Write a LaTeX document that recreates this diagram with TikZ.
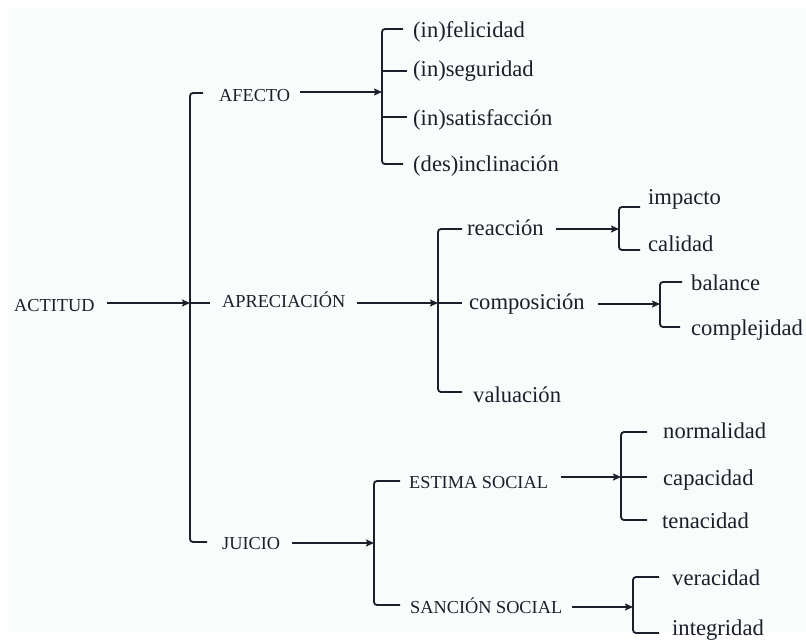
\documentclass[tikz,border=0pt]{standalone}
\usepackage{fontspec}
\setmainfont{Liberation Serif}
\usetikzlibrary{arrows.meta}
\definecolor{ink}{HTML}{1A1F2B}
\definecolor{bg}{HTML}{FAFBFB}
\begin{document}
\begin{tikzpicture}[x=1pt,y=-1pt,
  up/.style={inner sep=0pt,anchor=base west,text=ink,font=\rmfamily\fontsize{18.3}{20}\selectfont},
  lo/.style={inner sep=0pt,anchor=base west,text=ink,font=\rmfamily\fontsize{22.6}{24}\selectfont},
  arr/.style={draw=ink,line width=1.8pt,-{Stealth[length=8pt,width=7pt,inset=1.5pt]}},
  br/.style={draw=ink,line width=1.8pt,rounded corners=3pt},
  tick/.style={draw=ink,line width=1.8pt}]
\useasboundingbox (0,0) rectangle (806,640);
\fill[white] (0,0) rectangle (806,640);
\fill[bg] (8,8) rectangle (806,632);

% nodes
\node[up] (actitud) at (14,311) {ACTITUD};
\node[up] (afecto) at (219,101) {AFECTO};
\node[up] (apre) at (222,307) {APRECIACIÓN};
\node[up] (juicio) at (222,549) {JUICIO};

\node[lo] (fel) at (413,37) {(in)felicidad};
\node[lo] (seg) at (413,76) {(in)seguridad};
\node[lo] (sat) at (413,125) {(in)satisfacción};
\node[lo] (des) at (413,171) {(des)inclinación};

\node[lo] (reac) at (467,235) {reacción};
\node[lo] (comp) at (469,309) {composición};
\node[lo] (valu) at (473,402) {valuación};

\node[lo] (imp) at (648,204) {impacto};
\node[lo] (cal) at (648,251) {calidad};
\node[lo] (bal) at (691,290) {balance};
\node[lo] (cplj) at (691,335) {complejidad};

\node[up] (estima) at (409,488) {ESTIMA SOCIAL};
\node[up] (sancion) at (410,613) {SANCIÓN SOCIAL};

\node[lo] (norm) at (663,438) {normalidad};
\node[lo] (capa) at (663,485) {capacidad};
\node[lo] (tena) at (662,528) {tenacidad};
\node[lo] (vera) at (672,585) {veracidad};
\node[lo] (inte) at (672,635) {integridad};

% bracket coordinates
\coordinate (mA) at (190,303);
\coordinate (aA) at (382,92);
\coordinate (pA) at (438,303);
\coordinate (jA) at (374,543);
\coordinate (rA) at (619,229);
\coordinate (cA) at (660,304);
\coordinate (eA) at (621,477);
\coordinate (sA) at (633,607);

% arrows
\draw[arr] ([xshift=12pt]actitud.east |- mA) -- (mA);
\draw[arr] ([xshift=10pt]afecto.east |- aA) -- (aA);
\draw[arr] ([xshift=12pt]apre.east |- pA) -- (pA);
\draw[arr] ([xshift=12pt]juicio.east |- jA) -- (jA);
\draw[arr] ([xshift=12pt]reac.east |- rA) -- (rA);
\draw[arr] ([xshift=13pt]comp.east |- cA) -- (cA);
\draw[arr] ([xshift=13pt]estima.east |- eA) -- (eA);
\draw[arr] ([xshift=10pt]sancion.east |- sA) -- (sA);

% main bracket
\coordinate (m1) at (203,93);
\coordinate (m3) at (207,542);
\draw[br] (m1) -- (mA |- m1) -- (mA |- m3) -- (m3);
\draw[tick] (mA) -- (210,303);

% afecto bracket
\coordinate (a1) at (403,29);
\coordinate (a2) at (407,71);
\coordinate (a3) at (407,117);
\coordinate (a4) at (403,164);
\draw[br] (a1) -- (aA |- a1) -- (aA |- a4) -- (a4);
\draw[tick] (aA |- a2) -- (a2);
\draw[tick] (aA |- a3) -- (a3);

% apreciacion bracket
\coordinate (p1) at (462,229);
\coordinate (p2) at (462,303);
\coordinate (p3) at (462,392);
\draw[br] (p1) -- (pA |- p1) -- (pA |- p3) -- (p3);
\draw[tick] (pA) -- (p2);

% reaccion bracket
\coordinate (r1) at (640,207);
\coordinate (r2) at (640,250);
\draw[br] (r1) -- (rA |- r1) -- (rA |- r2) -- (r2);

% composicion bracket
\coordinate (c1) at (682,282);
\coordinate (c2) at (680,327);
\draw[br] (c1) -- (cA |- c1) -- (cA |- c2) -- (c2);

% juicio bracket
\coordinate (j1) at (400,481);
\coordinate (j2) at (400,605);
\draw[br] (j1) -- (jA |- j1) -- (jA |- j2) -- (j2);

% estima bracket
\coordinate (e1) at (647,432);
\coordinate (e2) at (647,477);
\coordinate (e3) at (647,520);
\draw[br] (e1) -- (eA |- e1) -- (eA |- e3) -- (e3);
\draw[tick] (eA) -- (e2);

% sancion bracket
\coordinate (s1) at (659,577);
\coordinate (s2) at (659,633);
\draw[br] (s1) -- (sA |- s1) -- (sA |- s2) -- (s2);
\end{tikzpicture}
\end{document}
